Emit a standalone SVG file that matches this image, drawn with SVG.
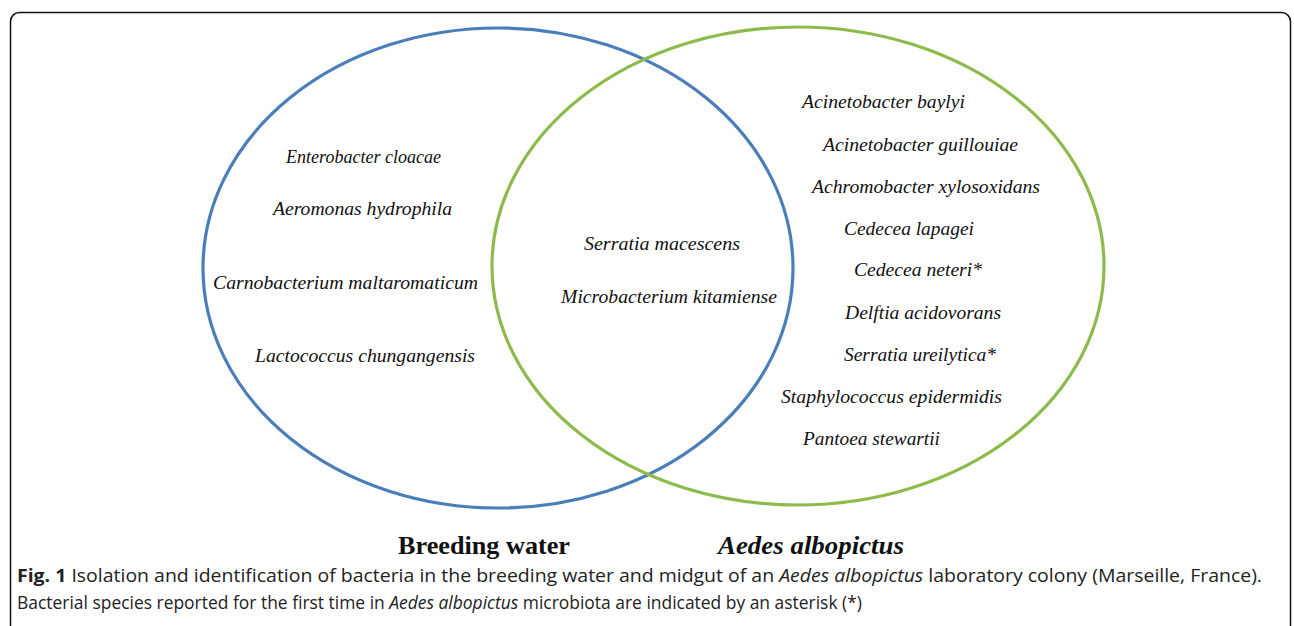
<svg xmlns="http://www.w3.org/2000/svg" width="1294" height="626" viewBox="0 0 1294 626">
<style>
.sp{font-family:"Liberation Serif","DejaVu Serif",serif;font-style:italic;font-size:18px;fill:#111}
.lbl{font-family:"Liberation Serif",serif;font-weight:bold;font-size:25px;fill:#111}
.cap{font-family:"Open Sans","Liberation Sans",sans-serif;font-size:17.5px;fill:#222}
.set{fill:none;stroke-width:3.2}
</style>
<rect x="10.5" y="12.5" width="1280" height="660" rx="9" fill="#fff" stroke="#111" stroke-width="1.5"/>
<g id="breeding-water">
<ellipse class="set" cx="498" cy="268" rx="295" ry="240" stroke="#4a7ebb"/>
<text class="sp" x="286" y="163" textLength="155" lengthAdjust="spacingAndGlyphs">Enterobacter cloacae</text>
<text class="sp" x="273" y="215" textLength="179" lengthAdjust="spacingAndGlyphs">Aeromonas hydrophila</text>
<text class="sp" x="213" y="289" textLength="265" lengthAdjust="spacingAndGlyphs">Carnobacterium maltaromaticum</text>
<text class="sp" x="255" y="362" textLength="220" lengthAdjust="spacingAndGlyphs">Lactococcus chungangensis</text>
</g>
<g id="aedes-albopictus">
<ellipse class="set" cx="798" cy="266" rx="306" ry="239" stroke="#8dbb4b"/>
<text class="sp" x="802" y="108" textLength="163" lengthAdjust="spacingAndGlyphs">Acinetobacter baylyi</text>
<text class="sp" x="823" y="151" textLength="195" lengthAdjust="spacingAndGlyphs">Acinetobacter guillouiae</text>
<text class="sp" x="812" y="193" textLength="228" lengthAdjust="spacingAndGlyphs">Achromobacter xylosoxidans</text>
<text class="sp" x="844" y="235" textLength="130" lengthAdjust="spacingAndGlyphs">Cedecea lapagei</text>
<text class="sp" x="854" y="276" textLength="128" lengthAdjust="spacingAndGlyphs">Cedecea neteri*</text>
<text class="sp" x="845" y="319" textLength="156" lengthAdjust="spacingAndGlyphs">Delftia acidovorans</text>
<text class="sp" x="844" y="361" textLength="152" lengthAdjust="spacingAndGlyphs">Serratia ureilytica*</text>
<text class="sp" x="781" y="403" textLength="221" lengthAdjust="spacingAndGlyphs">Staphylococcus epidermidis</text>
<text class="sp" x="803" y="445" textLength="137" lengthAdjust="spacingAndGlyphs">Pantoea stewartii</text>
</g>
<g id="shared">
<text class="sp" x="584" y="250" textLength="156" lengthAdjust="spacingAndGlyphs">Serratia macescens</text>
<text class="sp" x="561" y="303" textLength="216" lengthAdjust="spacingAndGlyphs">Microbacterium kitamiense</text>
</g>
<g id="labels">
<text class="lbl" x="398" y="554" textLength="172" lengthAdjust="spacingAndGlyphs">Breeding water</text>
<text class="lbl" x="718" y="554" font-style="italic" textLength="186" lengthAdjust="spacingAndGlyphs">Aedes albopictus</text>
</g>
<g id="caption">
<text class="cap" x="17" y="582" textLength="1245" lengthAdjust="spacingAndGlyphs"><tspan font-weight="bold">Fig. 1</tspan> Isolation and identification of bacteria in the breeding water and midgut of an <tspan font-style="italic">Aedes albopictus</tspan> laboratory colony (Marseille, France).</text>
<text class="cap" x="17" y="609" textLength="845" lengthAdjust="spacingAndGlyphs">Bacterial species reported for the first time in <tspan font-style="italic">Aedes albopictus</tspan> microbiota are indicated by an asterisk (*)</text>
</g>
</svg>
